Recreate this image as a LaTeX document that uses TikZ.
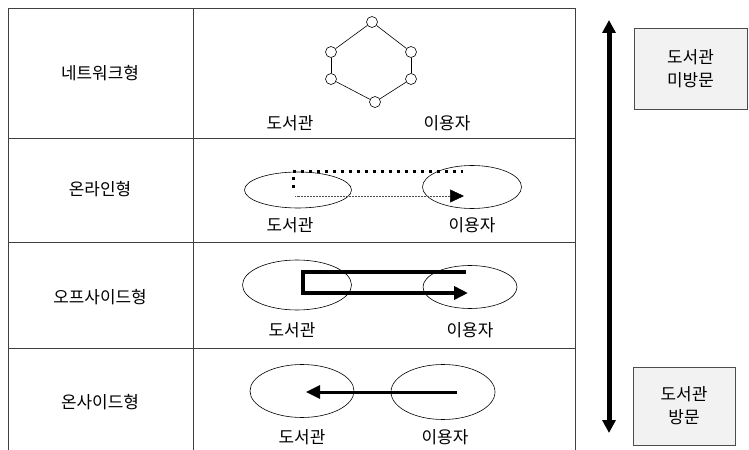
\documentclass[tikz,border=0pt]{standalone}
\usepackage{fontspec}
\setmainfont{Noto Sans CJK KR}
\usepackage{tikz}
\usetikzlibrary{arrows.meta,positioning,shapes.geometric}

\begin{document}
\begin{tikzpicture}[
  x=1bp,y=-1bp,
  every node/.style={font=\fontsize{17}{23}\selectfont},
  grid/.style={draw=black!75,line width=0.9bp},
  place/.style={ellipse,draw,inner sep=0pt,line width=0.6bp},
  dot/.style={circle,draw,fill=white,inner sep=0pt,minimum size=11bp,line width=0.6bp},
  visit/.style={rectangle,draw=black!70,fill=black!5,align=center,line width=0.8bp},
  tip/.style={-{Triangle[length=14bp,width=13bp,black]}},
  arr/.style={tip,line width=3bp},
  bigarr/.style={{Triangle[length=13bp,width=13bp]}-{Triangle[length=13bp,width=13bp]},line width=5bp},
]
\useasboundingbox (0,0) rectangle (749,450);

% table
\draw[grid] (8,450) -- (8,8) -- (575,8) -- (575,450);
\draw[grid] (193,8) -- (193,450);
\foreach \y in {138,242,348} \draw[grid] (8,\y) -- (575,\y);

\node (net) at (100,73) {네트워크형};
\node (online) at (100,189) {온라인형};
\node (offsite) at (100,297) {오프사이드형};
\node (onsite) at (100,402) {온사이드형};

% network
\node[dot] (h1) at (372,22) {};
\node[dot] (h2) at (411,52) {};
\node[dot] (h3) at (411,79) {};
\node[dot] (h4) at (375,102) {};
\node[dot] (h5) at (331,79) {};
\node[dot] (h6) at (331,52) {};
\foreach \a/\b in {h1/h2,h2/h3,h3/h4,h4/h5,h5/h6,h6/h1} \draw[line width=0.6bp] (\a) -- (\b);
\node (libtxt1) at (290,123) {도서관};
\node (usrtxt1) at (447,123) {이용자};

% online
\node[place,minimum width=107bp,minimum height=36bp] (lib2) at (298,190) {};
\node[place,minimum width=99bp,minimum height=43bp] (usr2) at (472,187) {};
\coordinate (d2a) at (293,188);
\coordinate (d2b) at (293,172);
\coordinate (d2c) at (463,172);
\coordinate (t2a) at (295,196);
\coordinate (t2b) at (464,196);
\draw[line width=3bp,dash pattern=on 3bp off 5bp] (d2a) -- (d2b) -- (d2c);
\draw[tip,line width=0.5bp,densely dotted,black!70] (t2a) -- (t2b);
\node (libtxt2) at (290,225) {도서관};
\node (usrtxt2) at (472,225) {이용자};

% offsite
\node[place,minimum width=109bp,minimum height=50bp] (lib3) at (297,285) {};
\node[place,minimum width=94bp,minimum height=43bp] (usr3) at (470,287) {};
\coordinate (p3a) at (466,272);
\coordinate (p3b) at (303,272);
\coordinate (p3c) at (303,293);
\coordinate (p3d) at (468,293);
\draw[arr,line width=3.5bp] (p3a) -- (p3b) -- (p3c) -- (p3d);
\node (libtxt3) at (292,330) {도서관};
\node (usrtxt3) at (470,330) {이용자};

% onsite
\node[place,minimum width=104bp,minimum height=53bp] (lib4) at (302,391) {};
\node[place,minimum width=104bp,minimum height=55bp] (usr4) at (443,392) {};
\coordinate (p4a) at (457,392);
\coordinate (p4b) at (306,392);
\draw[arr] (p4a) -- (p4b);
\node (libtxt4) at (302,437) {도서관};
\node (usrtxt4) at (445,437) {이용자};

% visit scale
\coordinate (up) at (609,20);
\coordinate (down) at (609,433);
\draw[bigarr] (down) -- (up);
\node[visit,minimum width=113bp,minimum height=81bp] (novisit) at (690.5,68.5) {도서관\\미방문};
\node[visit,minimum width=102bp,minimum height=78bp] (visit) at (684,406) {도서관\\방문};
\end{tikzpicture}
\end{document}
